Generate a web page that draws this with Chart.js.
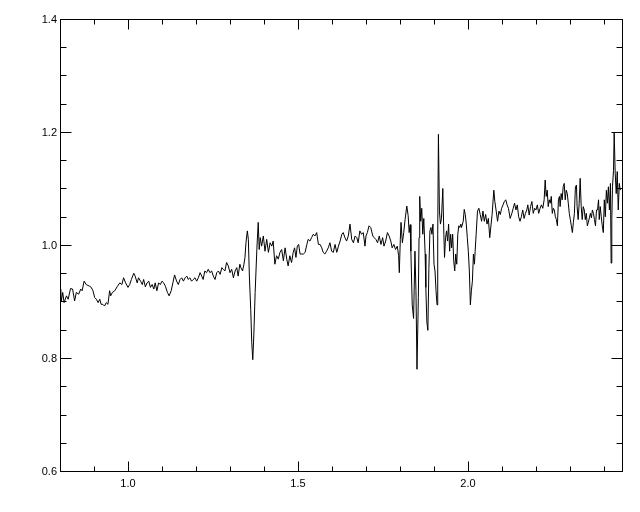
<!DOCTYPE html>
<html>
<head>
<meta charset="utf-8">
<script src="https://cdn.jsdelivr.net/npm/chart.js@4"></script>
<style>
  body { margin: 0; background: #fff; }
  canvas { display: block; }
</style>
</head>
<body>
<canvas id="spec" width="640" height="512"></canvas>
<script>
// wavelength (x) and flux (y)
const wavelength = [
  0.800, 0.802, 0.804, 0.808, 0.812, 0.819, 0.824, 0.831, 0.837, 0.843, 0.848, 0.855, 0.861, 0.865, 0.871, 0.877,
  0.887, 0.892, 0.897, 0.902, 0.907, 0.912, 0.917, 0.921, 0.926, 0.931, 0.936, 0.941, 0.946, 0.949, 0.954, 0.961,
  0.969, 0.976, 0.982, 0.987, 0.993, 1.000, 1.005, 1.010, 1.017, 1.021, 1.027, 1.031, 1.037, 1.042, 1.046, 1.051,
  1.056, 1.061, 1.066, 1.071, 1.076, 1.080, 1.085, 1.090, 1.095, 1.100, 1.105, 1.110, 1.116, 1.121, 1.127, 1.132,
  1.137, 1.143, 1.148, 1.153, 1.158, 1.163, 1.168, 1.173, 1.177, 1.182, 1.187, 1.192, 1.197, 1.202, 1.207, 1.212,
  1.217, 1.221, 1.226, 1.231, 1.236, 1.241, 1.246, 1.251, 1.256, 1.261, 1.266, 1.271, 1.276, 1.280, 1.285, 1.290,
  1.295, 1.300, 1.305, 1.310, 1.315, 1.320, 1.324, 1.329, 1.332, 1.337, 1.341, 1.344, 1.347, 1.351, 1.354, 1.357,
  1.361, 1.364, 1.367, 1.370, 1.374, 1.379, 1.383, 1.386, 1.389, 1.393, 1.398, 1.403, 1.408, 1.413, 1.418, 1.423,
  1.427, 1.432, 1.437, 1.442, 1.447, 1.452, 1.457, 1.462, 1.467, 1.471, 1.476, 1.481, 1.486, 1.490, 1.494, 1.498,
  1.502, 1.506, 1.511, 1.516, 1.521, 1.526, 1.530, 1.535, 1.540, 1.545, 1.550, 1.555, 1.560, 1.565, 1.570, 1.574,
  1.579, 1.584, 1.589, 1.594, 1.599, 1.604, 1.609, 1.614, 1.619, 1.624, 1.629, 1.633, 1.638, 1.643, 1.648, 1.653,
  1.658, 1.663, 1.668, 1.673, 1.677, 1.682, 1.687, 1.692, 1.697, 1.700, 1.704, 1.709, 1.714, 1.720, 1.724, 1.729,
  1.734, 1.739, 1.744, 1.749, 1.753, 1.758, 1.763, 1.768, 1.773, 1.777, 1.782, 1.787, 1.792, 1.796, 1.798, 1.801,
  1.803, 1.807, 1.811, 1.815, 1.820, 1.824, 1.827, 1.830, 1.832, 1.836, 1.840, 1.844, 1.847, 1.850, 1.854, 1.856,
  1.858, 1.861, 1.864, 1.867, 1.870, 1.874, 1.876, 1.879, 1.882, 1.885, 1.888, 1.891, 1.894, 1.897, 1.900, 1.903,
  1.906, 1.909, 1.911, 1.913, 1.916, 1.919, 1.922, 1.926, 1.929, 1.931, 1.934, 1.937, 1.940, 1.943, 1.946, 1.949,
  1.952, 1.955, 1.958, 1.961, 1.964, 1.967, 1.970, 1.973, 1.976, 1.979, 1.981, 1.986, 1.989, 1.992, 1.995, 1.998,
  2.001, 2.004, 2.007, 2.010, 2.013, 2.016, 2.019, 2.021, 2.024, 2.028, 2.032, 2.036, 2.040, 2.044, 2.048, 2.052,
  2.056, 2.060, 2.064, 2.068, 2.071, 2.076, 2.079, 2.083, 2.087, 2.091, 2.095, 2.099, 2.103, 2.107, 2.111, 2.115,
  2.119, 2.124, 2.129, 2.133, 2.137, 2.141, 2.145, 2.149, 2.153, 2.157, 2.161, 2.165, 2.169, 2.173, 2.176, 2.180,
  2.184, 2.188, 2.192, 2.196, 2.200, 2.204, 2.208, 2.212, 2.216, 2.220, 2.224, 2.227, 2.230, 2.233, 2.236, 2.239,
  2.242, 2.245, 2.248, 2.251, 2.254, 2.257, 2.260, 2.263, 2.266, 2.269, 2.271, 2.274, 2.277, 2.280, 2.283, 2.286,
  2.289, 2.292, 2.295, 2.298, 2.301, 2.304, 2.307, 2.310, 2.313, 2.316, 2.319, 2.321, 2.324, 2.327, 2.330, 2.333,
  2.336, 2.339, 2.342, 2.345, 2.348, 2.351, 2.354, 2.357, 2.360, 2.363, 2.366, 2.369, 2.372, 2.375, 2.378, 2.381,
  2.384, 2.386, 2.389, 2.392, 2.395, 2.398, 2.401, 2.404, 2.407, 2.410, 2.413, 2.416, 2.419, 2.421, 2.423, 2.425,
  2.428, 2.430, 2.433, 2.436, 2.439, 2.442, 2.445, 2.448
];
const flux = [
  0.912, 0.922, 0.901, 0.916, 0.898, 0.910, 0.904, 0.923, 0.922, 0.901, 0.916, 0.913, 0.922, 0.919, 0.936, 0.930,
  0.927, 0.925, 0.919, 0.907, 0.904, 0.898, 0.904, 0.895, 0.895, 0.892, 0.898, 0.895, 0.919, 0.910, 0.916, 0.919,
  0.927, 0.933, 0.930, 0.942, 0.933, 0.925, 0.930, 0.939, 0.950, 0.945, 0.933, 0.942, 0.936, 0.930, 0.939, 0.926,
  0.933, 0.936, 0.925, 0.930, 0.922, 0.933, 0.919, 0.933, 0.930, 0.936, 0.933, 0.927, 0.916, 0.910, 0.919, 0.933,
  0.947, 0.936, 0.930, 0.939, 0.942, 0.936, 0.942, 0.945, 0.939, 0.942, 0.936, 0.939, 0.942, 0.936, 0.942, 0.951,
  0.945, 0.939, 0.954, 0.951, 0.957, 0.951, 0.954, 0.945, 0.939, 0.951, 0.954, 0.948, 0.960, 0.957, 0.954, 0.969,
  0.963, 0.951, 0.957, 0.942, 0.954, 0.960, 0.945, 0.966, 0.960, 0.954, 0.966, 0.978, 1.004, 1.025, 1.010, 0.945,
  0.886, 0.827, 0.797, 0.839, 0.916, 0.992, 1.040, 0.992, 1.013, 0.998, 1.016, 0.989, 1.010, 0.987, 1.004, 0.998,
  1.007, 0.966, 0.981, 0.975, 0.987, 0.992, 0.972, 0.995, 0.975, 0.963, 0.981, 0.969, 0.987, 0.995, 0.978, 0.998,
  1.001, 0.984, 0.984, 0.984, 0.987, 1.001, 1.010, 1.007, 1.013, 1.019, 1.016, 1.022, 1.001, 1.001, 0.995, 0.987,
  0.984, 0.989, 0.995, 1.004, 0.989, 0.987, 1.001, 0.987, 0.998, 1.007, 1.019, 1.022, 1.013, 1.007, 1.016, 1.037,
  1.010, 1.004, 1.016, 1.013, 1.004, 1.025, 1.019, 1.022, 0.998, 1.016, 1.022, 1.034, 1.031, 1.016, 1.013, 1.010,
  1.004, 1.016, 1.001, 1.013, 0.998, 1.007, 1.022, 1.016, 1.007, 0.995, 1.001, 0.992, 0.998, 0.981, 0.951, 1.010,
  1.040, 1.004, 1.022, 1.045, 1.069, 1.052, 1.022, 1.036, 0.989, 0.894, 0.870, 0.989, 0.919, 0.780, 0.907, 1.013,
  1.086, 1.042, 1.065, 1.019, 1.047, 0.984, 0.925, 0.864, 0.849, 0.958, 1.025, 1.031, 1.019, 1.037, 0.966, 0.954,
  0.919, 0.894, 1.019, 1.196, 1.060, 1.037, 1.047, 1.100, 1.019, 0.978, 1.013, 1.025, 1.007, 1.037, 0.989, 1.019,
  0.995, 1.019, 0.972, 0.954, 0.984, 0.966, 1.019, 1.034, 1.031, 1.037, 1.031, 1.042, 1.063, 1.054, 1.037, 1.013,
  0.989, 0.954, 0.894, 0.919, 0.936, 0.984, 0.966, 0.989, 1.019, 1.060, 1.065, 1.054, 1.042, 1.060, 1.042, 1.054,
  1.037, 1.047, 1.013, 1.037, 1.054, 1.097, 1.077, 1.060, 1.042, 1.060, 1.054, 1.065, 1.071, 1.077, 1.080, 1.071,
  1.065, 1.047, 1.056, 1.065, 1.074, 1.062, 1.071, 1.050, 1.042, 1.050, 1.062, 1.047, 1.056, 1.062, 1.071, 1.053,
  1.068, 1.077, 1.056, 1.065, 1.062, 1.071, 1.056, 1.065, 1.071, 1.065, 1.080, 1.115, 1.086, 1.097, 1.068, 1.080,
  1.074, 1.086, 1.056, 1.065, 1.062, 1.050, 1.045, 1.034, 1.080, 1.086, 1.068, 1.091, 1.080, 1.103, 1.109, 1.080,
  1.097, 1.091, 1.074, 1.056, 1.045, 1.034, 1.022, 1.040, 1.056, 1.103, 1.106, 1.068, 1.045, 1.074, 1.118, 1.068,
  1.045, 1.068, 1.062, 1.045, 1.056, 1.034, 1.040, 1.048, 1.056, 1.048, 1.062, 1.056, 1.045, 1.034, 1.062, 1.062,
  1.080, 1.045, 1.068, 1.050, 1.034, 1.022, 1.080, 1.050, 1.097, 1.074, 1.103, 1.062, 1.109, 0.968, 1.045, 1.103,
  1.132, 1.198, 1.127, 1.091, 1.130, 1.062, 1.109, 1.097
];

// axis ranges and tick labels
const xRange = [0.8, 2.453];
const yRange = [0.6, 1.4];
const xTickLabels = ['1.0', '1.5', '2.0'];
const yTickLabels = ['0.6', '0.8', '1.0', '1.2', '1.4'];
const xMinorStep = 0.1;
const yMinorStep = 0.05;

// IDL-style box: frame, inward ticks on all four sides, labels outside
const boxAxes = {
    id: 'boxAxes',
    afterDraw(chart) {
        const ctx = chart.ctx;
        const { left, right, top, bottom } = chart.chartArea;
        const xs = chart.scales.x, ys = chart.scales.y;
        const L = Math.round(left) + 0.5, R = Math.round(right) + 0.5;
        const T = Math.round(top) + 0.5, B = Math.round(bottom) + 0.5;

        ctx.save();
        ctx.strokeStyle = '#000';
        ctx.lineWidth = 1;
        ctx.strokeRect(L, T, R - L, B - T);

        ctx.beginPath();
        // y ticks (left and right)
        const nY = Math.round((yRange[1] - yRange[0]) / yMinorStep);
        for (let i = 0; i <= nY; i++) {
            const v = yRange[0] + i * yMinorStep;
            const py = Math.round(ys.getPixelForValue(v)) + 0.5;
            const len = (i % 4 === 0) ? 11 : 6;
            ctx.moveTo(L, py); ctx.lineTo(L + len, py);
            ctx.moveTo(R, py); ctx.lineTo(R - len, py);
        }
        // x ticks (bottom and top)
        const nX = Math.floor((xRange[1] - xRange[0]) / xMinorStep + 1e-6);
        for (let i = 0; i <= nX; i++) {
            const v = xRange[0] + i * xMinorStep;
            const px = Math.round(xs.getPixelForValue(v)) + 0.5;
            const major = Math.abs(v * 2 - Math.round(v * 2)) < 1e-6;
            const len = major ? 10 : 5;
            ctx.moveTo(px, B); ctx.lineTo(px, B - len);
            ctx.moveTo(px, T); ctx.lineTo(px, T + len);
        }
        ctx.stroke();

        ctx.fillStyle = '#000';
        ctx.font = '11px "Liberation Sans", Arial, sans-serif';
        ctx.textAlign = 'right';
        ctx.textBaseline = 'middle';
        yTickLabels.forEach(lbl => {
            ctx.fillText(lbl, left - 3, ys.getPixelForValue(parseFloat(lbl)) + 1);
        });
        ctx.textAlign = 'center';
        ctx.textBaseline = 'middle';
        xTickLabels.forEach(lbl => {
            ctx.fillText(lbl, xs.getPixelForValue(parseFloat(lbl)), bottom + 13);
        });
        ctx.restore();
    }
};

const ctx = document.getElementById('spec').getContext('2d');
new Chart(ctx, {
    type: 'line',
    data: {
        datasets: [{
            data: wavelength.map((w, i) => ({ x: w, y: flux[i] })),
            borderColor: '#000',
            borderWidth: 1,
            pointRadius: 0,
            tension: 0,
            fill: false
        }]
    },
    options: {
        responsive: false,
        animation: false,
        layout: { padding: { left: 60, top: 19, right: 18, bottom: 41 } },
        plugins: { legend: { display: false }, tooltip: { enabled: false } },
        scales: {
            x: { type: 'linear', min: xRange[0], max: xRange[1], display: false },
            y: { type: 'linear', min: yRange[0], max: yRange[1], display: false }
        }
    },
    plugins: [boxAxes]
});
</script>
</body>
</html>
